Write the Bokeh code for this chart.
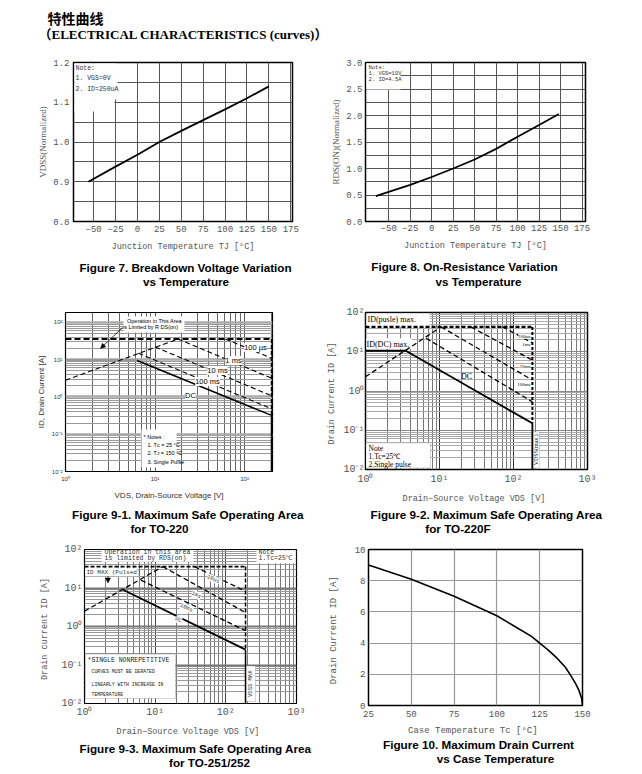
import math
from bokeh.plotting import figure
from bokeh.models import Range1d, FixedTicker, Label, BoxAnnotation, Arrow, NormalHead
from bokeh.layouts import column, row
from bokeh.embed import file_html
from bokeh.resources import INLINE

# ---------------- data ----------------
header_cn = "特性曲线"
header_en = "（ELECTRICAL CHARACTERISTICS (curves)）"

temp_ticks = [-50, -25, 0, 25, 50, 75, 100, 125, 150, 175]

# Figure 7 : breakdown voltage vs temperature
f7_temp = [-56, -25, 0, 25, 50, 75, 100, 125, 150]
f7_bvdss = [0.900, 0.938, 0.968, 1.000, 1.028, 1.055, 1.082, 1.110, 1.140]
f7_yticks = [0.8, 0.9, 1.0, 1.1, 1.2]
f7_ytick_labels = ["0.8", "0.9", "1.0", "1.1", "1.2"]
f7_yminor = [0.85, 0.95, 1.05, 1.15]
f7_note = ["Note:", "1. VGS=0V", "2. ID=250uA"]
f7_caption = ["Figure 7. Breakdown Voltage Variation", "vs Temperature"]

# Figure 8 : on-resistance vs temperature
f8_temp = [-65, -50, -25, 0, 25, 50, 75, 100, 125, 148]
f8_rdson = [0.48, 0.56, 0.69, 0.84, 1.00, 1.17, 1.37, 1.60, 1.82, 2.03]
f8_yticks = [0.0, 0.5, 1.0, 1.5, 2.0, 2.5, 3.0]
f8_ytick_labels = ["0.0", "0.5", "1.0", "1.5", "2.0", "2.5", "3.0"]
f8_yminor = [0.25, 0.75, 1.25, 1.75, 2.25, 2.75]
f8_note = ["Note:", "1. VGS=10V", "2. ID=4.5A"]
f8_caption = ["Figure 8. On-Resistance Variation", "vs Temperature"]

# log tick labels
log_exps = [-2, -1, 0, 1, 2, 3]
log_labels = ["10⁻²", "10⁻¹", "10⁰", "10¹", "10²", "10³"]

# Figure 9-1 : SOA TO-220
f91_rds_v = [1, 18];      f91_rds_i = [2.8, 36]
f91_idm_v = [1, 200];     f91_idm_i = [36, 36]
f91_us100_v = [61, 200];  f91_us100_i = [36, 11]
f91_ms1_v = [18, 200];    f91_ms1_i = [36, 3.2]
f91_ms10_v = [10, 200];   f91_ms10_i = [22, 1.08]
f91_ms100_v = [6.5, 200]; f91_ms100_i = [15, 0.48]
f91_dc_v = [1, 6.3, 200]; f91_dc_i = [9.5, 9.5, 0.32]
f91_vdss = 200
f91_curve_labels = ["100 µs", "1 ms", "10 ms", "100 ms", "DC"]
f91_notes = ["* Notes :", "1. T\u1d04 = 25 °C", "2. T\u1d0a = 150 °C", "3. Single Pulse"]
f91_caption = ["Figure 9-1. Maximum Safe Operating Area", "for TO-220"]

# Figure 9-2 : SOA TO-220F
f92_rds_v = [1, 10.5];     f92_rds_i = [2.3, 43]
f92_idm_v = [1, 180];      f92_idm_i = [43, 43]
f92_us100_v = [71, 180];   f92_us100_i = [43, 16.8]
f92_ms1_v = [26.6, 180];   f92_ms1_i = [43, 6.1]
f92_ms10_v = [10.5, 180];  f92_ms10_i = [43, 1.9]
f92_ms100_v = [6.6, 180];  f92_ms100_i = [22, 0.53]
f92_dc_v = [1, 3.5, 180];  f92_dc_i = [10.6, 10.6, 0.15]
f92_vdss = 180
f92_curve_labels = ["100us", "1ms", "10ms", "100ms", "DC"]
f92_caption = ["Figure 9-2. Maximum Safe Operating Area", "for TO-220F"]

# Figure 9-3 : SOA TO-251/252
f93_rds_v = [1, 12.8];     f93_rds_i = [2.5, 36]
f93_idm_v = [1, 190];      f93_idm_i = [36, 36]
f93_us10_v = [36, 190];    f93_us10_i = [36, 8.2]
f93_ms1_v = [12.8, 190];   f93_ms1_i = [36, 2.3]
f93_ms10_v = [6.3, 190];   f93_ms10_i = [16, 0.78]
f93_dc_v = [3.5, 190];     f93_dc_i = [9, 0.25]
f93_vdss = 190
f93_curve_labels = ["10us", "1ms", "10ms", "DC"]
f93_notes = ["*SINGLE NONREPETITIVE", "CURVES MUST BE DERATED", "LINEARLY WITH INCREASE IN", "TEMPERATURE"]
f93_caption = ["Figure 9-3. Maximum Safe Operating Area", "for TO-251/252"]

# Figure 10 : max drain current vs case temperature
f10_tc = [25, 50, 75, 100, 110, 120, 125, 130, 135, 140, 143, 146, 148, 149.5, 150]
f10_id = [9.0, 8.1, 7.0, 5.75, 5.1, 4.45, 4.0, 3.55, 3.05, 2.45, 1.95, 1.4, 0.95, 0.45, 0.0]
f10_xticks = [25, 50, 75, 100, 125, 150]
f10_yticks = [0, 2, 4, 6, 8, 10]
f10_caption = ["Figure 10. Maximum Drain Current", "vs Case Temperature"]

MONO = "Liberation Mono"
SERIF = "Liberation Serif"
SANS = "Liberation Sans"


def no_align(f):
    try:
        f.frame_align = False
    except Exception:
        pass
    return f


class Panel:
    def __init__(self, origin, size, frame, xr, yr, xtype="linear", ytype="linear"):
        ox, oy = origin
        w, h = size
        L, T, R, B = frame
        self.frame, self.xr, self.yr, self.xtype, self.ytype = frame, xr, yr, xtype, ytype
        self.p = figure(width=w, height=h, x_range=Range1d(*xr), y_range=Range1d(*yr),
                        x_axis_type=xtype, y_axis_type=ytype, output_backend="svg",
                        toolbar_location=None, min_border_left=L - ox, min_border_right=ox + w - R,
                        min_border_top=T - oy, min_border_bottom=oy + h - B)
        p = no_align(self.p)
        p.outline_line_color = "black"
        p.outline_line_width = 1.5
        p.background_fill_color = "white"
        p.border_fill_color = "white"
        for ax in (p.xaxis[0], p.yaxis[0]):
            ax.axis_line_color = None
            ax.major_tick_line_color = None
            ax.minor_tick_line_color = None
            ax.major_tick_out = 0
            ax.major_tick_in = 0
            ax.minor_tick_out = 0
            ax.axis_label_text_font_style = "normal"

    @staticmethod
    def _m(t, r, kind):
        if kind == "log":
            a, b = math.log10(r[0]), math.log10(r[1])
            return 10 ** (a + t * (b - a))
        return r[0] + t * (r[1] - r[0])

    def d(self, px, py):
        L, T, R, B = self.frame
        return (self._m((px - L) / (R - L), self.xr, self.xtype),
                self._m((B - py) / (B - T), self.yr, self.ytype))

    def text(self, px, py, s, size, font=SANS, color="black", align="left",
             baseline="middle", style="normal", angle=0.0, bg=None):
        x, y = self.d(px, py)
        lab = Label(x=x, y=y, text=s, text_font=font, text_font_size=f"{size}px",
                    text_color=color, text_align=align, text_baseline=baseline,
                    text_font_style=style, angle=angle)
        if bg:
            lab.background_fill_color = bg
        self.p.add_layout(lab)

    def box(self, x0, y0, x1, y1, line_color=None, line_width=1.0):
        l, t = self.d(x0, y0)
        r, b = self.d(x1, y1)
        self.p.add_layout(BoxAnnotation(left=l, right=r, top=t, bottom=b, fill_color="white",
                                        fill_alpha=1.0, line_color=line_color,
                                        line_width=line_width, level="underlay"))

    def axis_style(self, font, size, color, lab_font, lab_size, xs, xls, ys, yls):
        p = self.p
        for ax, st, lst in ((p.xaxis[0], xs, xls), (p.yaxis[0], ys, yls)):
            ax.major_label_text_font = font
            ax.major_label_text_font_size = f"{size}px"
            ax.major_label_text_color = color
            ax.axis_label_text_font = lab_font
            ax.axis_label_text_font_size = f"{lab_size}px"
            ax.axis_label_text_color = color
            ax.major_label_standoff = st
            ax.axis_label_standoff = lst


def strip(origin, size):
    """A text strip whose data coordinates equal page pixels."""
    ox, oy = origin
    w, h = size
    f = figure(width=w, height=h, x_range=Range1d(ox, ox + w), y_range=Range1d(oy + h, oy),
               output_backend="svg", toolbar_location=None, x_axis_location=None,
               y_axis_location=None, min_border=0)
    no_align(f)
    f.outline_line_color = None
    f.grid.visible = False
    f.background_fill_color = "white"
    f.border_fill_color = "white"
    return f


def caption(f, lines, centers, ys):
    for s, cx, cy in zip(lines, centers, ys):
        f.add_layout(Label(x=cx, y=cy, text=s, text_font=SANS, text_font_size="11.7px",
                           text_font_style="bold", text_align="center",
                           text_baseline="middle", text_color="black"))


def log_minor(lo, hi, top):
    return [m * 10.0 ** e for e in range(lo, hi) for m in range(2, 10) if m * 10.0 ** e <= top]


def log_major(lo, hi):
    return [10.0 ** e for e in range(lo, hi + 1)]


def log_overrides(ticks):
    out = {}
    for t in ticks:
        e = int(round(math.log10(t)))
        out[t] = log_labels[log_exps.index(e)]
    return out


W = 641

# ---------------- header ----------------
hdr = strip((0, 0), (W, 45))
hdr.add_layout(Label(x=47, y=17, text=header_cn, text_font="Noto Sans CJK SC", text_font_size="14px",
                     text_font_style="bold", text_baseline="middle", text_color="black"))
hdr.add_layout(Label(x=38, y=34, text=header_en, text_font="'Liberation Serif', 'Noto Sans CJK SC'",
                     text_font_size="13px", text_font_style="bold", text_baseline="middle",
                     text_color="black"))

# ---------------- Figure 7 ----------------
P7 = Panel((0, 45), (320, 212), (73, 62, 292, 221), (-73, 177), (0.8, 1.2))
p7 = P7.p
p7.xaxis.ticker = FixedTicker(ticks=temp_ticks)
p7.yaxis.ticker = FixedTicker(ticks=f7_yticks, minor_ticks=f7_yminor)
p7.yaxis.major_label_overrides = dict(zip(f7_yticks, f7_ytick_labels))
p7.grid.grid_line_color = "#555555"
p7.ygrid.minor_grid_line_color = "#555555"
P7.axis_style(MONO, 9, "#555555", MONO, 8.5, 4, 7, 4, 2)
p7.yaxis.axis_label_text_font = SERIF
p7.yaxis.axis_label_text_font_size = "9px"
p7.xaxis.axis_label = "Junction Temperature TJ [°C]"
p7.yaxis.axis_label = "VDSS(Normalized)"
P7.box(74, 63, 117, 99)
P7.box(74, 99, 114, 111)
for s, yy in zip(f7_note, [68, 78, 89]):
    P7.text(75, yy, s, 6.5, font=MONO, color="#333333")
p7.line(f7_temp, f7_bvdss, line_color="black", line_width=1.8)
c7 = strip((0, 257), (320, 34))
caption(c7, f7_caption, [185, 185.5], [267, 281])

# ---------------- Figure 8 ----------------
P8 = Panel((320, 45), (321, 212), (365, 62, 585, 221), (-77, 179), (0.0, 3.0))
p8 = P8.p
p8.xaxis.ticker = FixedTicker(ticks=temp_ticks)
p8.yaxis.ticker = FixedTicker(ticks=f8_yticks, minor_ticks=f8_yminor)
p8.yaxis.major_label_overrides = dict(zip(f8_yticks, f8_ytick_labels))
p8.grid.grid_line_color = "#555555"
p8.ygrid.minor_grid_line_color = "#555555"
P8.axis_style(MONO, 9, "#555555", MONO, 8.5, 3, 7, 3, 2)
p8.yaxis.axis_label_text_font = SERIF
p8.yaxis.axis_label_text_font_size = "9px"
p8.xaxis.axis_label = "Junction Temperature TJ [°C]"
p8.yaxis.axis_label = "RDS(ON)(Normalized)"
P8.box(366, 63, 400, 89)
for s, yy in zip(f8_note, [67, 73, 79]):
    P8.text(368, yy, s, 5.5, font=MONO, color="#333333")
p8.line(f8_temp, f8_rdson, line_color="black", line_width=1.8)
c8 = strip((320, 257), (321, 34))
caption(c8, f8_caption, [464, 478], [266, 281])

# ---------------- Figure 9-1 ----------------
P91 = Panel((0, 291), (320, 215), (65, 312, 272, 471), (1, 205), (0.01, 185), "log", "log")
p91 = P91.p
p91.outline_line_width = 1.2
x91 = log_major(0, 2)
y91 = log_major(-2, 2)
p91.xaxis.ticker = FixedTicker(ticks=x91, minor_ticks=log_minor(0, 3, 200))
p91.yaxis.ticker = FixedTicker(ticks=y91, minor_ticks=log_minor(-2, 3, 185))
p91.xaxis.major_label_overrides = log_overrides(x91)
p91.yaxis.major_label_overrides = log_overrides(y91)
p91.xgrid.grid_line_color = "#555555"
p91.xgrid.minor_grid_line_color = "#666666"
p91.ygrid.grid_line_color = "#aaaaaa"
p91.ygrid.grid_line_width = 2.5
p91.ygrid.minor_grid_line_color = "#999999"
P91.axis_style(SANS, 6, "#333333", SANS, 8, 4, 6, 3, 3)
p91.xaxis.axis_label = "VDS, Drain-Source Voltage [V]"
p91.yaxis.axis_label = "ID, Drain Current [A]"
P91.box(123, 316, 184, 332)
P91.box(141, 429, 176, 467)
dash = "5 3"
p91.line(f91_dc_v[:2], f91_dc_i[:2], line_color="#999999", line_width=3)
p91.line(f91_dc_v[1:], f91_dc_i[1:], line_color="black", line_width=1.5)
p91.line(f91_rds_v, f91_rds_i, line_color="black", line_width=1.1, line_dash=dash)
p91.line(f91_idm_v, f91_idm_i, line_color="black", line_width=2.2, line_dash="6 3")
for vv, ii in ((f91_us100_v, f91_us100_i), (f91_ms1_v, f91_ms1_i),
               (f91_ms10_v, f91_ms10_i), (f91_ms100_v, f91_ms100_i)):
    p91.line(vv, ii, line_color="black", line_width=1.1, line_dash=dash)
p91.line([f91_vdss, f91_vdss], [f91_idm_i[0], f91_dc_i[-1]], line_color="black", line_width=1.6, line_dash="4 2")
p91.line([f91_vdss, f91_vdss], [f91_dc_i[-1], 0.01], line_color="black", line_width=1.6)
P91.text(154, 320, "Operation in This Area", 5.5, align="center")
P91.text(150, 326.5, "is Limited by R DS(on)", 5.5, align="center")
a91s = P91.d(122, 327)
a91e = P91.d(100, 348)
p91.add_layout(Arrow(end=NormalHead(size=5, fill_color="black", line_color="black", line_width=0.5),
                     x_start=a91s[0], y_start=a91s[1], x_end=a91e[0], y_end=a91e[1],
                     line_color="black", line_width=0.8))
for s, (px, py) in zip(f91_curve_labels, [(255, 347), (233, 360), (217, 370), (207, 381), (190, 395)]):
    P91.text(px, py, s, 7.5, align="center", bg="white")
for s, (px, py) in zip(f91_notes, [(143, 436), (147, 444), (147, 452.5), (147, 461)]):
    P91.text(px, py, s, 5.5)
c91 = strip((0, 506), (320, 28))
caption(c91, f91_caption, [187.5, 159], [514, 527.5])

# ---------------- Figure 9-2 ----------------
P92 = Panel((320, 291), (321, 215), (365, 312, 587, 471), (1, 1000), (0.01, 100), "log", "log")
p92 = P92.p
x92 = log_major(0, 3)
y92 = log_major(-2, 2)
p92.xaxis.ticker = FixedTicker(ticks=x92, minor_ticks=log_minor(0, 3, 1000))
p92.yaxis.ticker = FixedTicker(ticks=y92, minor_ticks=log_minor(-2, 2, 100))
p92.xaxis.major_label_overrides = log_overrides(x92)
p92.yaxis.major_label_overrides = log_overrides(y92)
p92.xgrid.grid_line_color = "#333333"
p92.xgrid.minor_grid_line_color = "#777777"
p92.ygrid.grid_line_color = "#888888"
p92.ygrid.minor_grid_line_color = "#aaaaaa"
P92.axis_style(MONO, 10, "#555555", MONO, 8.5, 4, 6, 1, 3)
p92.xaxis.axis_label = "Drain−Source Voltage  VDS [V]"
p92.yaxis.axis_label = "Drain Current  ID [A]"
P92.box(366, 313, 429, 327)
P92.box(366, 338, 411, 349)
P92.box(365.5, 444, 430, 469.5, line_color="#555555", line_width=0.8)
P92.box(531, 433, 539, 469.5, line_color="#555555", line_width=0.8)
p92.line(f92_rds_v, f92_rds_i, line_color="black", line_width=1.3, line_dash=dash)
p92.line(f92_idm_v, f92_idm_i, line_color="black", line_width=2.2, line_dash="4 2")
for vv, ii in ((f92_us100_v, f92_us100_i), (f92_ms1_v, f92_ms1_i),
               (f92_ms10_v, f92_ms10_i), (f92_ms100_v, f92_ms100_i)):
    p92.line(vv, ii, line_color="black", line_width=1.3, line_dash=dash)
p92.line(f92_dc_v, f92_dc_i, line_color="black", line_width=1.8)
p92.line([f92_vdss, f92_vdss], [f92_idm_i[0], f92_dc_i[-1]], line_color="black", line_width=2.0, line_dash="3 2")
p92.line([f92_vdss, f92_vdss], [f92_dc_i[-1], 0.01], line_color="black", line_width=1.8)
P92.text(367, 319.5, "ID(pusle)  max.", 8, font=SERIF)
P92.text(366, 344, "ID(DC)  max.", 8, font=SERIF)
P92.text(466, 377, "DC", 8, font=SERIF, align="center")
for s, (px, py) in zip(f92_curve_labels, [(530, 336), (530, 344.5), (530, 367), (530, 385)]):
    P92.text(px, py, s, 5, font=SERIF, align="right", bg="white")
for s, yy in zip(["Note", "1.Tc=25℃", "2.Single  pulse"], [449.5, 457.5, 465.5]):
    P92.text(368, yy, s, 7.5, font=SERIF)
P92.text(535, 451, "VDSS(max.)", 6, font=SERIF, align="center", angle=math.pi / 2)
c92 = strip((320, 506), (321, 28))
caption(c92, f92_caption, [486, 457.5], [514, 527.5])

# ---------------- Figure 9-3 ----------------
P93 = Panel((0, 534), (320, 205), (84, 549, 296, 705), (1, 1000), (0.01, 100), "log", "log")
p93 = P93.p
p93.outline_line_width = 1.2
x93 = log_major(0, 3)
y93 = log_major(-2, 2)
p93.xaxis.ticker = FixedTicker(ticks=x93, minor_ticks=log_minor(0, 3, 1000))
p93.yaxis.ticker = FixedTicker(ticks=y93, minor_ticks=log_minor(-2, 2, 100))
p93.xaxis.major_label_overrides = log_overrides(x93)
p93.yaxis.major_label_overrides = log_overrides(y93)
p93.xgrid.grid_line_color = "#444444"
p93.xgrid.minor_grid_line_color = "#777777"
p93.ygrid.grid_line_color = "#777777"
p93.ygrid.grid_line_width = 2
p93.ygrid.minor_grid_line_color = "#999999"
P93.axis_style(MONO, 10, "#555555", MONO, 8.5, 3, 6, 2, 8)
p93.xaxis.axis_label = "Drain−Source Voltage  VDS [V]"
p93.yaxis.axis_label = "Drain current  ID [A]"
P93.box(101, 550, 193, 561.5)
P93.box(85, 568, 137, 576)
P93.box(256, 550, 295, 563)
P93.box(85, 655, 175, 700, line_color="#555555", line_width=0.8)
P93.box(245, 667, 255, 703, line_color="#555555", line_width=0.8)
p93.line(f93_rds_v, f93_rds_i, line_color="black", line_width=1.3, line_dash=dash)
p93.line(f93_idm_v, f93_idm_i, line_color="black", line_width=1.8, line_dash="4 2")
for vv, ii in ((f93_us10_v, f93_us10_i), (f93_ms1_v, f93_ms1_i), (f93_ms10_v, f93_ms10_i)):
    p93.line(vv, ii, line_color="black", line_width=1.3, line_dash=dash)
p93.line(f93_dc_v, f93_dc_i, line_color="black", line_width=1.8)
p93.line([f93_vdss, f93_vdss], [f93_idm_i[0], f93_dc_i[-1]], line_color="black", line_width=1.5, line_dash="4 2")
p93.line([f93_vdss, f93_vdss], [f93_dc_i[-1], 0.01], line_color="black", line_width=1.5)
P93.text(104, 552.5, "Operation in this area", 6.5, font=MONO, color="#333333")
P93.text(104, 558.5, "is limited by RDS(on)", 6.5, font=MONO, color="#333333")
P93.text(86, 572, "ID MAX (Pulsed)", 6, font=MONO, color="#333333")
P93.text(258, 552.5, "Note", 6.5, font=MONO, color="#333333")
P93.text(258, 558.5, "1.Tc=25℃", 6.5, font=MONO, color="#333333")
ang = -0.43
for s, (px, py) in zip(f93_curve_labels, [(213, 579), (196, 595), (186, 608), (178, 620)]):
    P93.text(px, py, s, 5.5, font=MONO, color="#333333", align="center", angle=ang, bg="white")
a93s = P93.d(107.5, 576)
a93e = P93.d(107.5, 583)
p93.add_layout(Arrow(end=NormalHead(size=5, fill_color="black", line_color="black", line_width=0.5),
                     x_start=a93s[0], y_start=a93s[1], x_end=a93e[0], y_end=a93e[1],
                     line_color="black", line_width=0.8))
P93.text(87, 661, f93_notes[0], 6.5, font=MONO, color="#222222")
for s, yy in zip(f93_notes[1:], [673, 685.5, 695.5]):
    P93.text(91, yy, s, 4.8, font=MONO, color="#222222")
P93.text(250, 685, "VDSS MAX", 5.5, font=MONO, color="#333333", align="center", angle=math.pi / 2)
c93 = strip((0, 739), (320, 34))
caption(c93, f93_caption, [195, 209], [748, 762])

# ---------------- Figure 10 ----------------
P10 = Panel((320, 534), (321, 205), (368, 549, 582, 705), (25, 150), (0, 10))
p10 = P10.p
p10.xaxis.ticker = FixedTicker(ticks=f10_xticks)
p10.yaxis.ticker = FixedTicker(ticks=f10_yticks)
p10.grid.grid_line_color = "#999999"
p10.grid.grid_line_width = 1.2
P10.axis_style(MONO, 9, "#555555", MONO, 9, 5, 6, 3, 13)
p10.xaxis.axis_label = "Case Temperature  Tc [°C]"
p10.yaxis.axis_label = "Drain Current  ID [A]"
p10.line(f10_tc, f10_id, line_color="black", line_width=1.6)
c10 = strip((320, 739), (321, 34))
caption(c10, f10_caption, [478, 495], [744, 758])

layout = column(hdr,
                row(column(p7, c7), column(p8, c8)),
                row(column(p91, c91), column(p92, c92)),
                row(column(p93, c93), column(p10, c10)))
open("out.html", "w").write(file_html(layout, INLINE))
